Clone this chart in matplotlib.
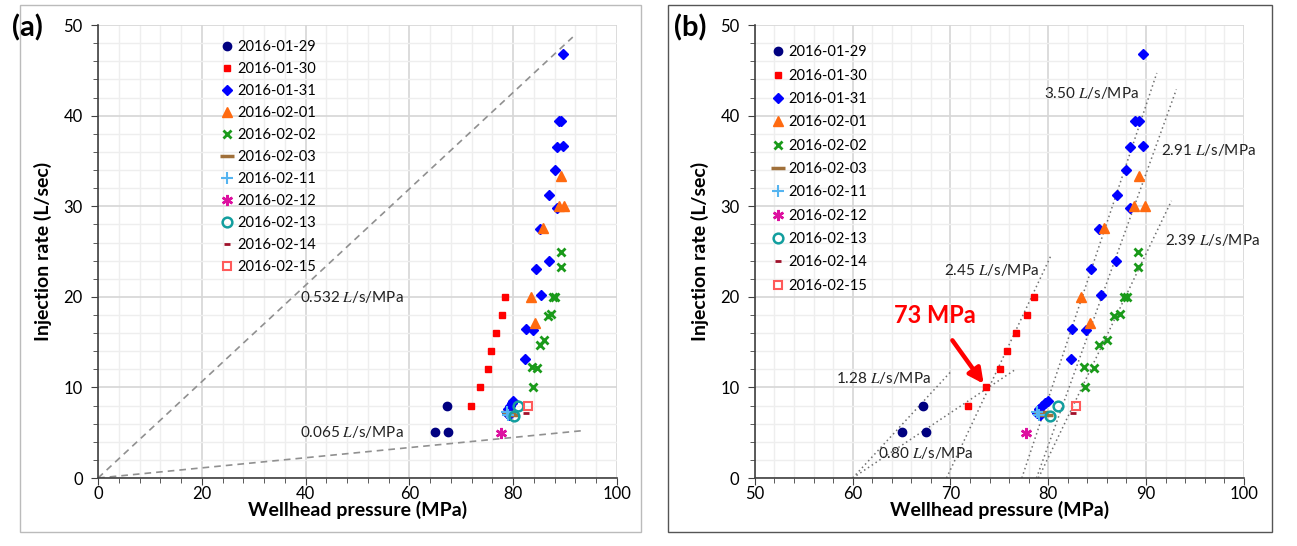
import numpy as np
import matplotlib
matplotlib.use('Agg')
import matplotlib.pyplot as plt
from matplotlib.patches import Rectangle
from matplotlib.ticker import MultipleLocator

plt.rcParams['font.family'] = ['Lato', 'DejaVu Sans']
plt.rcParams['mathtext.fontset'] = 'stix'
plt.rc('xtick', labelsize=12)
plt.rc('ytick', labelsize=12)

# data: (wellhead pressure MPa, injection rate L/s)
dates = ['2016-01-29', '2016-01-30', '2016-01-31', '2016-02-01', '2016-02-02', '2016-02-03',
         '2016-02-11', '2016-02-12', '2016-02-13', '2016-02-14', '2016-02-15']

p_0129 = [65.0, 67.2, 67.5]
q_0129 = [5.1, 8.0, 5.1]
p_0130 = [71.8, 73.6, 75.1, 75.8, 76.7, 77.8, 78.5]
q_0130 = [8.0, 10.0, 12.0, 14.0, 16.0, 18.0, 20.0]
p_0131 = [89.7, 88.9, 89.3, 88.4, 89.7, 88.0, 87.0, 88.4, 85.2, 84.4, 86.9, 85.4,
          82.4, 83.9, 82.3, 78.8, 79.1, 79.4, 79.7, 80.0, 79.2]
q_0131 = [46.8, 39.4, 39.4, 36.5, 36.7, 34.0, 31.3, 29.8, 27.5, 23.1, 24.0, 20.2,
          16.4, 16.3, 13.1, 7.2, 7.6, 8.0, 8.3, 8.5, 7.0]
p_0201 = [83.4, 84.3, 85.7, 88.8, 89.9, 89.3]
q_0201 = [20.0, 17.1, 27.6, 30.0, 30.0, 33.3]
p_0202 = [83.8, 83.7, 84.7, 85.2, 86.0, 86.7, 87.3, 87.7, 88.1, 89.2, 89.2]
q_0202 = [10.0, 12.3, 12.2, 14.7, 15.2, 17.9, 18.1, 20.0, 20.0, 23.3, 25.0]
p_0203 = [79.8, 79.3]
q_0203 = [7.0, 7.3]
p_0211 = [78.9, 79.1]
q_0211 = [7.3, 7.0]
p_0212 = [77.7]
q_0212 = [5.0]
p_0213 = [81.0, 80.2]
q_0213 = [7.9, 6.9]
p_0214 = [82.5]
q_0214 = [7.2]
p_0215 = [82.8]
q_0215 = [8.0]

series_p = [p_0129, p_0130, p_0131, p_0201, p_0202, p_0203, p_0211, p_0212, p_0213, p_0214, p_0215]
series_q = [q_0129, q_0130, q_0131, q_0201, q_0202, q_0203, q_0211, q_0212, q_0213, q_0214, q_0215]

styles = [
    dict(marker='o', color='#000080', ms=6, mfc='#000080'),
    dict(marker='s', color='#FF0000', ms=5, mfc='#FF0000'),
    dict(marker='D', color='#0000FF', ms=5.5, mfc='#0000FF'),
    dict(marker='^', color='#FF6A10', ms=7, mfc='#FF6A10'),
    dict(marker='x', color='#1A9A1A', ms=6, mew=2),
    dict(marker='_', color='#A0703A', ms=10, mew=2.5),
    dict(marker='+', color='#55B4F0', ms=8, mew=1.5),
    dict(marker=(6, 2, 0), color='#DD11A0', ms=8, mew=1.8),
    dict(marker='o', color='#129E9E', ms=7, mfc='none', mew=1.8),
    dict(marker='_', color='#A0102A', ms=4, mew=2),
    dict(marker='s', color='#FF5A5A', ms=6, mfc='none', mew=1.5),
]

# fitted lines (a): slope, x end
a_lines_slope = [0.532, 0.056]
a_lines_xend = [91.5, 93.5]
a_lines_text = ['0.532 $L$/s/MPa', '0.065 $L$/s/MPa']
a_text_pos = [(39.0, 20.0), (39.0, 5.1)]

# fitted lines (b): x intercept, slope, x end
b_x0 = [60.0, 60.0, 69.6, 77.3, 78.8, 79.0]
b_slope = [1.17, 0.72, 2.30, 3.24, 3.0, 2.25]
b_xend = [70.0, 76.6, 80.3, 91.1, 93.1, 92.6]
b_text = ['1.28 $L$/s/MPa', '0.80 $L$/s/MPa', '2.45 $L$/s/MPa',
          '3.50 $L$/s/MPa', '2.91 $L$/s/MPa', '2.39 $L$/s/MPa']
b_text_pos = [(58.3, 11.0), (62.6, 2.8), (69.3, 23.0), (79.6, 42.5), (91.5, 36.2), (91.9, 26.3)]


def style_axes(ax, xmaj, xmin):
    ax.xaxis.set_major_locator(MultipleLocator(xmaj))
    ax.xaxis.set_minor_locator(MultipleLocator(xmin))
    ax.yaxis.set_major_locator(MultipleLocator(10))
    ax.yaxis.set_minor_locator(MultipleLocator(2))
    ax.grid(which='major', color='#D6D6D6', lw=1.2)
    ax.grid(which='minor', color='#EEEEEE', lw=1.0)
    ax.set_axisbelow(True)
    for s in ['top', 'right']:
        ax.spines[s].set_visible(False)
    for s in ['left', 'bottom']:
        ax.spines[s].set_color('#404040')
        ax.spines[s].set_linewidth(1.2)
    ax.tick_params(which='major', direction='out', length=5, color='#404040')
    ax.tick_params(which='minor', direction='out', length=3.5, color='#404040')
    ax.tick_params(axis='x', which='major', pad=1)
    ax.tick_params(axis='y', which='major', pad=6)
    ax.set_xlabel('Wellhead pressure (MPa)', fontsize=14, fontweight='bold', labelpad=-1)
    ax.set_ylabel('Injection rate (L/sec)', fontsize=14, fontweight='bold', labelpad=8)
    ax.set_ylim(0, 50)


fig = plt.figure(figsize=(12.97, 5.46), dpi=100)
axa = fig.add_axes([0.0756, 0.1245, 0.400, 0.8295])
axb = fig.add_axes([0.582, 0.1245, 0.377, 0.8295])

# panel (a)
style_axes(axa, 20, 4)
axa.set_xlim(0, 100)
for k in range(len(a_lines_slope)):
    xx = np.array([0, a_lines_xend[k]])
    axa.plot(xx, a_lines_slope[k] * xx, ls=(0, (4, 3)), color='#909090', lw=1.2)
    axa.text(a_text_pos[k][0], a_text_pos[k][1], a_lines_text[k], fontsize=11,
             va='center', ha='left', color='#222222')
for k in range(len(dates)):
    axa.plot(series_p[k], series_q[k], ls='none', label=dates[k], **styles[k])
axa.legend(loc='upper left', bbox_to_anchor=(0.238, 0.968), frameon=False, fontsize=10.5,
           handlelength=0.8, handletextpad=0.3, labelspacing=0.55, borderaxespad=0, borderpad=0)

# panel (b)
style_axes(axb, 10, 2)
axb.set_xlim(50, 100)
for k in range(len(b_x0)):
    xx = np.array([b_x0[k], b_xend[k]])
    axb.plot(xx, b_slope[k] * (xx - b_x0[k]), ls=(0, (1, 2)), color='#707070', lw=1.1)
    axb.text(b_text_pos[k][0], b_text_pos[k][1], b_text[k], fontsize=11,
             va='center', ha='left', color='#222222')
for k in range(len(dates)):
    axb.plot(series_p[k], series_q[k], ls='none', label=dates[k], **styles[k])
axb.legend(loc='upper left', bbox_to_anchor=(0.035, 0.955), frameon=False, fontsize=10.5,
           handlelength=0.8, handletextpad=0.3, labelspacing=0.64, borderaxespad=0, borderpad=0)
axb.annotate('73 MPa', xy=(73.4, 10.4), xytext=(68.4, 17.9), color='#FF0000', fontsize=17,
             fontweight='bold', ha='center', va='center',
             arrowprops=dict(arrowstyle='-|>', color='#FF0000', lw=3.2, mutation_scale=22,
                             shrinkA=9, shrinkB=0))

# panel frames and letters
fig.add_artist(Rectangle((20 / 1297, 1 - 532 / 546), 621 / 1297, 527 / 546, transform=fig.transFigure,
                         fill=False, ec='#BBBBBB', lw=1))
fig.add_artist(Rectangle((668 / 1297, 1 - 532 / 546), 604 / 1297, 527 / 546, transform=fig.transFigure,
                         fill=False, ec='#555555', lw=1))
fig.text(27 / 1297, 1 - 28 / 546, '(a)', fontsize=21, fontweight='bold', ha='center', va='center')
fig.text(690 / 1297, 1 - 28 / 546, '(b)', fontsize=21, fontweight='bold', ha='center', va='center')

fig.savefig('out.png', dpi=100)
